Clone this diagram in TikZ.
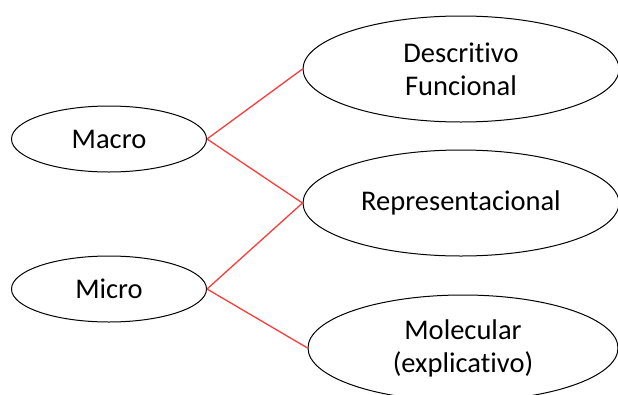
\documentclass[tikz,border=0pt]{standalone}
\usepackage{fontspec}
\setmainfont{Carlito}[RawFeature=-liga]
\usetikzlibrary{shapes.geometric}
\definecolor{linkred}{RGB}{250,60,60}
\begin{document}
\begin{tikzpicture}[x=1pt,y=-1pt,
        small/.style={ellipse,draw,line width=1pt,inner sep=0pt,minimum width=195pt,minimum height=66pt,font=\fontsize{28.5}{33}\selectfont},
        big/.style={ellipse,draw,line width=1pt,inner sep=0pt,minimum width=316pt,minimum height=106pt,align=center,font=\fontsize{28.5}{33}\selectfont},
        link/.style={draw=linkred,line width=1.3pt}]
        \useasboundingbox (0,0) rectangle (618,394);
        \node[small] (macro) at (109,139) {Macro};
        \node[small] (micro) at (109,289) {Micro};
        \node[big] (desc) at (461,69) {Descritivo\\Funcional};
        \node[big] (repr) at (461,203) {Representacional};
        \node[big,minimum width=310pt] (mol) at (463,348) {Molecular\\(explicativo)};

        \draw[link] (macro.east) -- (desc.west);
        \draw[link] (macro.east) -- (repr.west);
        \draw[link] (micro.east) -- (repr.west);
        \draw[link] (micro.east) -- (mol.west);
    \end{tikzpicture}
\end{document}
